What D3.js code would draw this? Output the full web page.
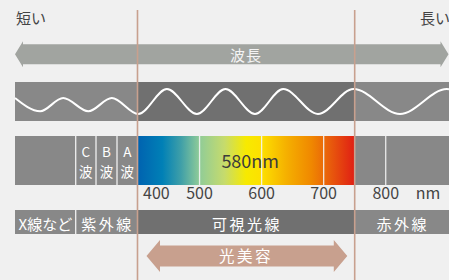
<!DOCTYPE html>
<html>
<head>
<meta charset="utf-8">
<script src="https://cdn.jsdelivr.net/npm/d3@7"></script>
<style>
  html, body { margin: 0; padding: 0; background: #f0f0f0; }
  svg { display: block; font-family: "Noto Sans CJK JP", "Noto Sans", sans-serif; }
</style>
</head>
<body>
<div class="chart"></div>
<script>
// Width and height
const w = 449;
const h = 280;

// bottom row: regions of the spectrum (nm)
const bandLabels = ["X線など", "紫外線", "可視光線", "赤外線"];
const bandStarts = [0, 100, 400, 750];
const bandEnds = [100, 400, 750, 902];

// ultraviolet sub bands
const uvLabels = ["C", "B", "A"];
const uvStarts = [100, 280, 315];
const uvEnds = [280, 315, 400];

// wavelength ticks
const tickValues = [400, 500, 600, 700, 800];
const unitLabel = "nm";

// visible spectrum colour stops
const specNm = [400, 440, 470, 500, 540, 575, 600, 640, 680, 710, 750];
const specColors = ["#0062b0", "#0080b6", "#3f9fa8", "#90cc98", "#c6db6c", "#f7ea00",
  "#fde000", "#f5b000", "#f08800", "#e85c0c", "#e01e14"];
const peakNm = 580;

// beauty-light range
const beautyRange = [400, 750];
const beautyLabel = "光美容";

// wave extrema (percent of the band width, level -1..1)
const waveX = [0, 5.8, 11.1, 16.9, 22.3, 28.4, 35.0, 41.9, 48.5, 55.3, 61.8, 69.8, 78.0, 88.7, 99.5, 100];
const waveLevel = [0.28, -0.78, 0.28, -0.78, 0.28, -1, 1, -1, 1, -1, 1, -1, 1, -1, 1, 0.98];

// piecewise wavelength scale (UV part is not to scale)
const x = d3.scaleLinear()
  .domain([0, 100, 280, 315, 400, 750, 902])
  .range([15, 75.7, 96, 117, 137.5, 354.7, 449]);

const svg = d3.select(".chart")
  .append("svg")
  .attr("width", w)
  .attr("height", h);

svg.append("rect").attr("width", w).attr("height", h).attr("fill", "#f0f0f0");

const gray = "#888888";
const dark = "#707070";
const tan = "#c8a08e";
const textDark = "#444444";

// short / long
svg.append("text").attr("x", 16).attr("y", 24).attr("font-size", 15)
  .attr("fill", textDark).text("短い");
svg.append("text").attr("x", 450).attr("y", 24).attr("font-size", 15)
  .attr("text-anchor", "end").attr("fill", textDark).text("長い");

// arrow shape, double headed
const arrow = (x0, x1, yc, half, headHalf, head) =>
  `M${x0},${yc} L${x0 + head},${yc - headHalf} L${x0 + head},${yc - half} ` +
  `L${x1 - head},${yc - half} L${x1 - head},${yc - headHalf} L${x1},${yc} ` +
  `L${x1 - head},${yc + headHalf} L${x1 - head},${yc + half} L${x0 + head},${yc + half} ` +
  `L${x0 + head},${yc + headHalf} Z`;

// wavelength arrow
svg.append("path")
  .attr("d", arrow(x(0), 448.5, 54.3, 10, 13, 8))
  .attr("fill", "#a1a4a0");
svg.append("text").attr("x", 246).attr("y", 60.5).attr("font-size", 15)
  .attr("text-anchor", "middle").attr("fill", "#f4f4f4").attr("letter-spacing", 1)
  .text("波長");

// wave band: gray everywhere, darker over the visible part
const waveTop = 82, waveBottom = 121;
svg.append("rect")
  .attr("x", x(0)).attr("y", waveTop)
  .attr("width", w - x(0)).attr("height", waveBottom - waveTop)
  .attr("fill", gray);
svg.append("rect")
  .attr("x", x(bandStarts[2])).attr("y", waveTop)
  .attr("width", x(bandEnds[2]) - x(bandStarts[2])).attr("height", waveBottom - waveTop)
  .attr("fill", dark);

const wx = d3.scaleLinear().domain([0, 100]).range([x(0), w]);
const wy = d3.scaleLinear().domain([-1, 1]).range([114, 89]);
const wavePts = waveX.map((d, i) => [wx(d), wy(waveLevel[i])]);
svg.append("path")
  .attr("d", d3.line().curve(d3.curveMonotoneX)(wavePts))
  .attr("fill", "none")
  .attr("stroke", "#ffffff")
  .attr("stroke-width", 2);

// spectrum bar
const specTop = 136, specBottom = 185;
const defs = svg.append("defs");
const grad = defs.append("linearGradient").attr("id", "spec")
  .attr("gradientUnits", "userSpaceOnUse")
  .attr("x1", x(400)).attr("x2", x(750)).attr("y1", 0).attr("y2", 0);
specNm.forEach((d, i) => {
  grad.append("stop")
    .attr("offset", (x(d) - x(400)) / (x(750) - x(400)))
    .attr("stop-color", specColors[i]);
});

svg.append("rect").attr("x", x(0)).attr("y", specTop)
  .attr("width", w - x(0)).attr("height", specBottom - specTop).attr("fill", gray);
svg.append("rect").attr("x", x(400)).attr("y", specTop)
  .attr("width", x(750) - x(400)).attr("height", specBottom - specTop).attr("fill", "url(#spec)");

// uv dividers and two-line labels
uvLabels.forEach((d, i) => {
  svg.append("line")
    .attr("x1", x(uvStarts[i])).attr("x2", x(uvStarts[i]))
    .attr("y1", specTop).attr("y2", specBottom)
    .attr("stroke", "#f0f0f0").attr("stroke-width", 1.3);
  const cx = (x(uvStarts[i]) + x(uvEnds[i])) / 2;
  svg.append("text").attr("x", cx).attr("y", 157).attr("font-size", 13.5)
    .attr("text-anchor", "middle").attr("fill", "#ffffff").text(d);
  svg.append("text").attr("x", cx).attr("y", 176.6).attr("font-size", 13.5)
    .attr("text-anchor", "middle").attr("fill", "#ffffff").text("波");
});

// grid lines at ticks (not at 400)
tickValues.filter(d => d > 400).forEach(d => {
  svg.append("line")
    .attr("x1", x(d)).attr("x2", x(d))
    .attr("y1", specTop).attr("y2", specBottom)
    .attr("stroke", "#f4f4f4").attr("stroke-opacity", 0.9).attr("stroke-width", 1.3);
});

svg.append("text").attr("x", x(peakNm) + 1).attr("y", 167.5).attr("font-size", 18)
  .attr("text-anchor", "middle").attr("fill", "#3c3c3c").text(peakNm + "nm");

// tick labels
tickValues.forEach(d => {
  svg.append("text")
    .attr("x", d === 400 ? x(d) + 5.5 : x(d))
    .attr("y", 199).attr("font-size", 16)
    .attr("text-anchor", d === 400 ? "start" : "middle")
    .attr("fill", textDark).text(d);
});
svg.append("text").attr("x", 428).attr("y", 199).attr("font-size", 16)
  .attr("text-anchor", "middle").attr("fill", textDark).text(unitLabel);

// bottom row
const rowTop = 210, rowBottom = 234;
bandLabels.forEach((d, i) => {
  const x0 = x(bandStarts[i]), x1 = x(bandEnds[i]);
  svg.append("rect").attr("x", x0).attr("y", rowTop)
    .attr("width", x1 - x0).attr("height", rowBottom - rowTop)
    .attr("fill", i === 2 ? dark : gray);
  svg.append("text").attr("x", (x0 + x1) / 2 + (i === 0 ? 0 : 1)).attr("y", 229.5)
    .attr("font-size", 15).attr("text-anchor", "middle")
    .attr("letter-spacing", i === 0 ? 0 : 2.5)
    .attr("fill", "#ffffff").text(d);
});
svg.append("line")
  .attr("x1", x(100)).attr("x2", x(100)).attr("y1", rowTop).attr("y2", rowBottom)
  .attr("stroke", "#f0f0f0").attr("stroke-width", 1.3);

// beauty arrow
svg.append("path")
  .attr("d", arrow(146.5, 347.3, 256, 10.5, 16, 13.5))
  .attr("fill", tan);
svg.append("text").attr("x", 246).attr("y", 262).attr("font-size", 15.5)
  .attr("text-anchor", "middle").attr("letter-spacing", 2.5)
  .attr("fill", "#ffffff").text(beautyLabel);

// range lines
beautyRange.forEach(d => {
  svg.append("line")
    .attr("x1", x(d)).attr("x2", x(d)).attr("y1", 10).attr("y2", h)
    .attr("stroke", tan).attr("stroke-width", 1.6);
});
</script>
</body>
</html>
